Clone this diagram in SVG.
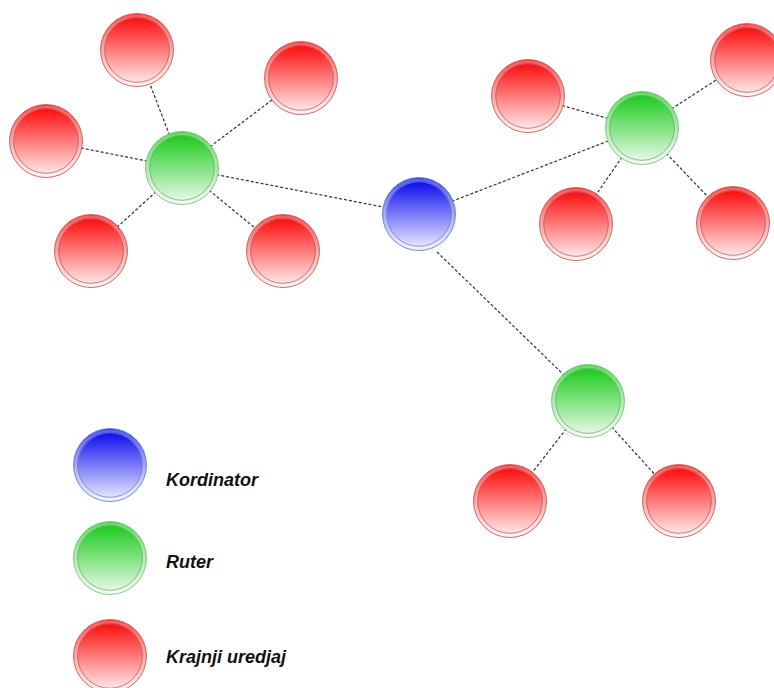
<svg xmlns="http://www.w3.org/2000/svg" width="774" height="688" viewBox="0 0 774 688">
  <defs>
    <linearGradient id="gRed" x1="0" y1="0" x2="0" y2="1">
      <stop offset="0" stop-color="#ff0000"/>
      <stop offset="1" stop-color="#fff4f4"/>
    </linearGradient>
    <linearGradient id="gGreen" x1="0" y1="0" x2="0" y2="1">
      <stop offset="0" stop-color="#10c810"/>
      <stop offset="1" stop-color="#f2fcf2"/>
    </linearGradient>
    <linearGradient id="gBlue" x1="0" y1="0" x2="0" y2="1">
      <stop offset="0" stop-color="#0000ee"/>
      <stop offset="1" stop-color="#f2f2ff"/>
    </linearGradient>
    <!-- one device symbol per role, centred on 0,0 -->
    <g id="devRed">
      <circle r="36.5" fill="url(#gRed)" stroke="#cc6a6a" stroke-width="1"/>
      <circle r="34.3" fill="none" stroke="#ffffff" stroke-opacity="0.35" stroke-width="3"/>
      <circle r="32.3" fill="none" stroke="#b06868" stroke-opacity="0.8" stroke-width="1"/>
    </g>
    <g id="devGreen">
      <circle r="36.5" fill="url(#gGreen)" stroke="#8cc88c" stroke-width="1"/>
      <circle r="34.3" fill="none" stroke="#ffffff" stroke-opacity="0.35" stroke-width="3"/>
      <circle r="32.3" fill="none" stroke="#7fa87f" stroke-opacity="0.8" stroke-width="1"/>
    </g>
    <g id="devBlue">
      <circle r="36.5" fill="url(#gBlue)" stroke="#6f8fd0" stroke-width="1"/>
      <circle r="34.3" fill="none" stroke="#ffffff" stroke-opacity="0.35" stroke-width="3"/>
      <circle r="32.3" fill="none" stroke="#7a86b0" stroke-opacity="0.8" stroke-width="1"/>
    </g>
  </defs>
  <style>
    .link { stroke: #333333; stroke-width: 1.2; stroke-dasharray: 3 2; fill: none; }
    .legend { font-family: "Liberation Sans", Arial, sans-serif; font-size: 18px; font-style: italic; font-weight: bold; fill: #111111; }
  </style>

  <rect width="774" height="688" fill="#ffffff"/>

  <!-- dashed links between devices -->
  <g id="connectors">
    <line class="link" x1="182" y1="168" x2="137" y2="50"/>
    <line class="link" x1="182" y1="168" x2="301" y2="78"/>
    <line class="link" x1="182" y1="168" x2="46" y2="141"/>
    <line class="link" x1="182" y1="168" x2="91" y2="251"/>
    <line class="link" x1="182" y1="168" x2="283" y2="251"/>
    <line class="link" x1="182" y1="168" x2="419" y2="214"/>
    <line class="link" x1="419" y1="214" x2="642" y2="128"/>
    <line class="link" x1="642" y1="128" x2="528" y2="96"/>
    <line class="link" x1="642" y1="128" x2="747" y2="60"/>
    <line class="link" x1="642" y1="128" x2="576" y2="224"/>
    <line class="link" x1="642" y1="128" x2="733" y2="223"/>
    <line class="link" x1="437" y1="252" x2="566" y2="377"/>
    <line class="link" x1="588" y1="401" x2="510" y2="501"/>
    <line class="link" x1="588" y1="401" x2="679" y2="501"/>
  </g>

  <!-- coordinator -->
  <g id="coordinator"><use href="#devBlue" x="419" y="214"/></g>

  <!-- routers -->
  <g id="router-west"><use href="#devGreen" x="182" y="168"/></g>
  <g id="router-east"><use href="#devGreen" x="642" y="128"/></g>
  <g id="router-south"><use href="#devGreen" x="588" y="401"/></g>

  <!-- end devices -->
  <g id="end-w1"><use href="#devRed" x="137" y="50"/></g>
  <g id="end-w2"><use href="#devRed" x="301" y="78"/></g>
  <g id="end-w3"><use href="#devRed" x="46" y="141"/></g>
  <g id="end-w4"><use href="#devRed" x="91" y="251"/></g>
  <g id="end-w5"><use href="#devRed" x="283" y="251"/></g>
  <g id="end-e1"><use href="#devRed" x="528" y="96"/></g>
  <g id="end-e2"><use href="#devRed" x="747" y="60"/></g>
  <g id="end-e3"><use href="#devRed" x="576" y="224"/></g>
  <g id="end-e4"><use href="#devRed" x="733" y="223"/></g>
  <g id="end-s1"><use href="#devRed" x="510" y="501"/></g>
  <g id="end-s2"><use href="#devRed" x="679" y="501"/></g>

  <!-- legend -->
  <g id="legend-coordinator">
    <use href="#devBlue" x="110" y="465"/>
    <text class="legend" x="166" y="486">Kordinator</text>
  </g>
  <g id="legend-router">
    <use href="#devGreen" x="110" y="558"/>
    <text class="legend" x="166" y="568">Ruter</text>
  </g>
  <g id="legend-end">
    <use href="#devRed" x="110" y="656"/>
    <text class="legend" x="166" y="663">Krajnji uredjaj</text>
  </g>
</svg>
